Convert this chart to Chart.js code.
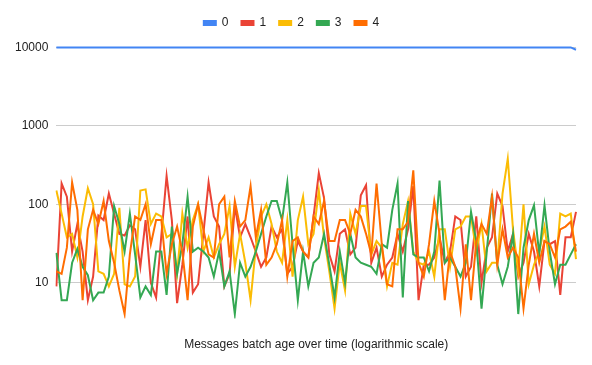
<!DOCTYPE html>
<html>
<head>
<meta charset="utf-8">
<script src="https://cdn.jsdelivr.net/npm/chart.js@4/dist/chart.umd.min.js"></script>
<style>
  html, body { margin: 0; padding: 0; background: #fff; }
  #wrap { width: 592px; height: 365px; }
</style>
</head>
<body>
<div id="wrap"><canvas id="ageChart" width="592" height="365"></canvas></div>
<script>
// data (approximate)
const seriesNames = ['0', '1', '2', '3', '4'];
const seriesColors = ['#4285F4', '#EA4335', '#FBBC04', '#34A853', '#FF6D01'];
const yTicks = [10, 100, 1000, 10000];

const series0 = [
  9950, 9950, 9900, 9950, 9950, 9950, 9950, 9950, 9950, 9950,
  9950, 9950, 9900, 9950, 9950, 9950, 9950, 9950, 9950, 9950,
  9950, 9950, 9950, 9950, 9950, 9950, 9950, 9950, 9950, 9950,
  9950, 9950, 9950, 9950, 9950, 9950, 9950, 9950, 9950, 9950,
  9950, 9950, 9950, 9950, 9950, 9950, 9950, 9950, 9950, 9950,
  9950, 9950, 9950, 9950, 9950, 9950, 9950, 9950, 9950, 9950,
  9950, 9950, 9950, 9950, 9950, 9950, 9950, 9950, 9950, 9950,
  9950, 9950, 9950, 9950, 9950, 9950, 9950, 9950, 9950, 9950,
  9950, 9950, 9950, 9950, 9950, 9950, 9950, 9950, 9950, 9950,
  9950, 9950, 9950, 9950, 9950, 9950, 9950, 9950, 9950, 9300
];
const series1 = [
  9, 184, 125, 25, 56, 25, 6, 12, 72, 63,
  137, 76, 42, 40, 54, 48, 16, 63, 10, 6.5,
  40, 230, 63, 5.5, 17, 70, 7.5, 9.6, 42, 190,
  70, 52, 9, 13, 95, 38, 56, 38, 25, 16,
  21, 52, 38, 48, 13, 16, 34, 25, 21, 70,
  250, 120, 23, 14, 42, 48, 23, 28, 130, 175,
  18, 28, 12, 17, 21, 42, 25, 48, 170, 6,
  17, 17, 21, 38, 18, 25, 70, 63, 12, 16,
  70, 10, 28, 38, 137, 95, 25, 42, 12, 18,
  42, 25, 9, 34, 31, 34, 7, 38, 38, 80
];
const series2 = [
  150, 76, 38, 42, 21, 70, 160, 100, 14, 13,
  9, 13, 90, 9.6, 9, 12, 150, 155, 56, 76,
  70, 38, 42, 13, 76, 28, 63, 100, 25, 38,
  21, 31, 42, 95, 16, 42, 18, 6, 28, 70,
  100, 56, 25, 18, 63, 12, 63, 125, 31, 42,
  150, 38, 14, 4.7, 18, 8, 76, 42, 95, 95,
  23, 34, 28, 9, 18, 17, 56, 110, 25, 18,
  17, 25, 12, 48, 48, 16, 48, 52, 70, 70,
  25, 56, 14, 18, 18, 137, 380, 48, 14, 100,
  9.6, 17, 25, 52, 17, 13, 76, 70, 76, 20
];
const series3 = [
  24, 6, 6, 18, 27, 16, 12.5, 6, 7.5, 7.5,
  12, 95, 56, 25, 76, 23, 6.5, 9, 7, 25,
  25, 7, 52, 13, 31, 125, 25, 28, 25, 21,
  12, 25, 9, 14, 4, 18, 12, 16, 25, 42,
  70, 110, 110, 63, 190, 31, 6, 25, 9, 18,
  21, 42, 17, 6.5, 25, 10, 42, 21, 18, 17,
  16, 13, 31, 28, 85, 184, 6.5, 110, 23, 21,
  21, 14, 25, 200, 18, 21, 16, 12, 18, 80,
  34, 4.7, 25, 137, 17, 9.6, 16, 42, 4, 28,
  63, 97, 23, 97, 25, 9.6, 17, 17, 23, 31
];
const series4 = [
  14, 13, 28, 190, 85, 6, 48, 85, 56, 110,
  34, 18, 8, 4, 23, 70, 63, 100, 31, 63,
  63, 13, 31, 52, 25, 6, 52, 100, 48, 23,
  21, 100, 125, 21, 110, 52, 63, 170, 38, 85,
  17, 21, 31, 63, 12, 34, 38, 25, 21, 70,
  56, 110, 34, 34, 63, 63, 42, 85, 70, 42,
  23, 184, 31, 9.6, 9, 48, 48, 60, 270, 18,
  12, 31, 110, 42, 6, 25, 16, 4.7, 31, 6,
  34, 56, 42, 125, 17, 48, 21, 28, 21, 4.7,
  17, 42, 18, 34, 31, 21, 48, 52, 60, 25
];

const allSeries = [series0, series1, series2, series3, series4];
const labels = series0.map((_, i) => String(i));

const fontFamily = "Arial, 'Liberation Sans', sans-serif";

const datasets = allSeries.map((vals, i) => ({
    label: seriesNames[i],
    data: vals,
    borderColor: seriesColors[i],
    backgroundColor: seriesColors[i],
    borderWidth: 2,
    pointRadius: 0,
    tension: 0,
    fill: false,
    order: 4 - i
}));

// a bit of extra room under the legend
const legendGap = {
    id: 'legendGap',
    beforeInit(chart) {
        const fit = chart.legend.fit;
        chart.legend.fit = function() {
            fit.bind(chart.legend)();
            this.height += 5;
        };
    }
};

const ctx = document.getElementById('ageChart').getContext('2d');
new Chart(ctx, {
    type: 'line',
    data: { labels: labels, datasets: datasets },
    plugins: [legendGap],
    options: {
        responsive: false,
        animation: false,
        layout: { padding: { left: 7, right: 16, top: 4, bottom: 13 } },
        plugins: {
            legend: {
                position: 'top',
                labels: {
                    boxWidth: 12,
                    boxHeight: 4,
                    padding: 13,
                    color: '#222',
                    font: { family: fontFamily, size: 12 },
                    sort: (a, b) => a.datasetIndex - b.datasetIndex
                }
            },
            tooltip: { enabled: false }
        },
        scales: {
            x: {
                grid: { display: false },
                border: { display: false },
                ticks: { display: false },
                title: {
                    display: true,
                    text: 'Messages batch age over time (logarithmic scale)',
                    color: '#222',
                    font: { family: fontFamily, size: 12 },
                    padding: { top: 11, bottom: 0 }
                }
            },
            y: {
                type: 'logarithmic',
                min: 3.5,
                max: 11000,
                afterBuildTicks: (axis) => {
                    axis.ticks = yTicks.map(v => ({ value: v }));
                },
                grid: { color: '#cccccc', drawTicks: false },
                border: { display: false },
                ticks: {
                    color: '#222',
                    padding: 8,
                    font: { family: fontFamily, size: 12 },
                    callback: (v) => String(v)
                }
            }
        }
    }
});
</script>
</body>
</html>
